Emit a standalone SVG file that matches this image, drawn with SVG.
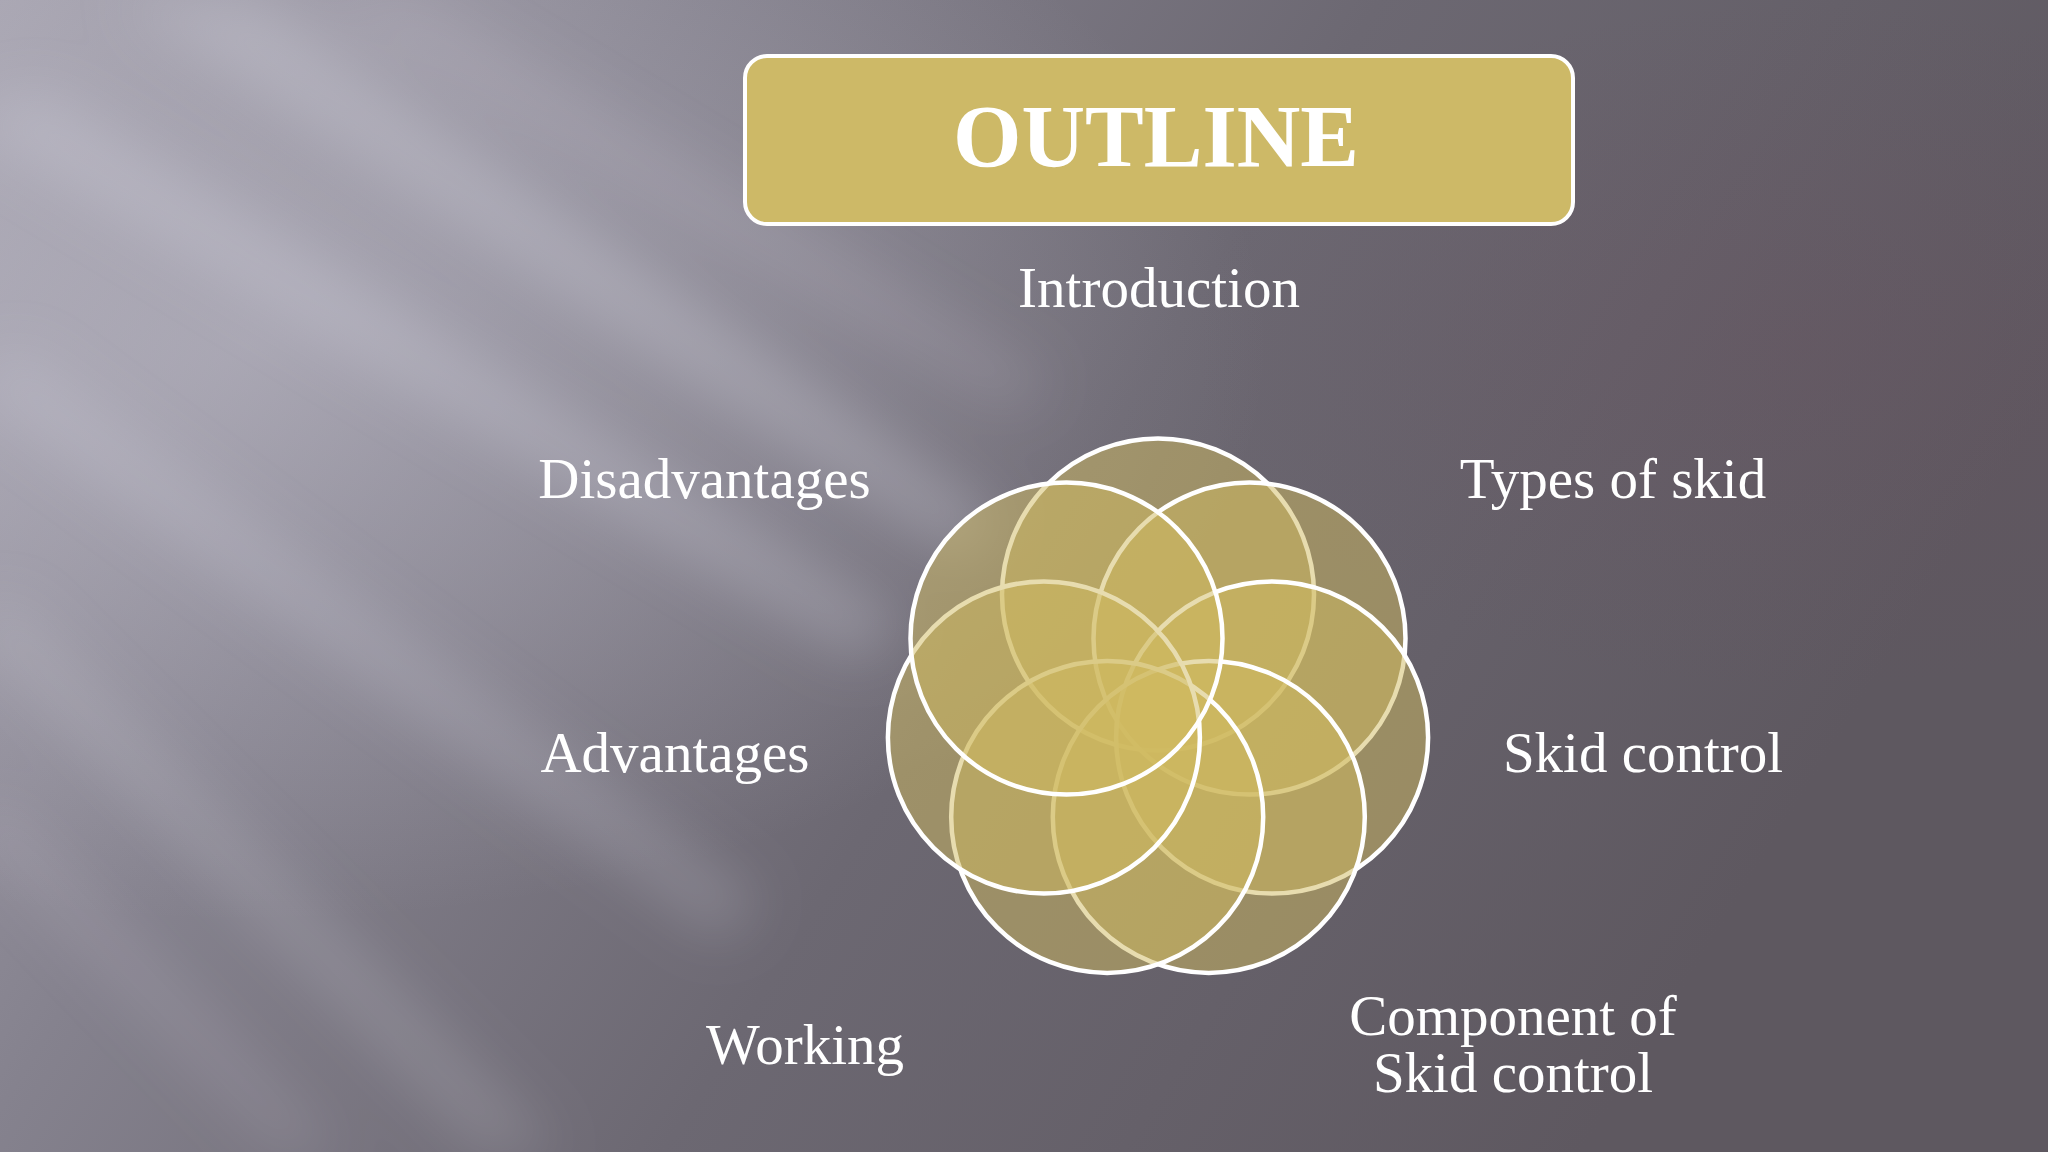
<svg xmlns="http://www.w3.org/2000/svg" width="2048" height="1152" viewBox="0 0 2048 1152">
  <defs>
    <linearGradient id="bg" x1="0" y1="0" x2="1" y2="0.35">
      <stop offset="0" stop-color="#a5a2ae"/>
      <stop offset="0.3" stop-color="#85828e"/>
      <stop offset="0.6" stop-color="#6c6872"/>
      <stop offset="1" stop-color="#5e5860"/>
    </linearGradient>
    <radialGradient id="glow" cx="0.12" cy="0.3" r="0.5">
      <stop offset="0" stop-color="#c4c2cf" stop-opacity="0.5"/>
      <stop offset="1" stop-color="#c4c2cf" stop-opacity="0"/>
    </radialGradient>
    <radialGradient id="tint" cx="0.88" cy="0.3" r="0.3">
      <stop offset="0" stop-color="#6a4f5e" stop-opacity="0.25"/>
      <stop offset="1" stop-color="#6a4f5e" stop-opacity="0"/>
    </radialGradient>
    <filter id="blur" x="-50%" y="-50%" width="200%" height="200%">
      <feGaussianBlur stdDeviation="28"/>
    </filter>
    <style>
      .lbl { font-family: "Liberation Serif", "DejaVu Serif", serif; font-size: 57px; fill: #ffffff; text-anchor: middle; }
      .ttl { font-family: "Liberation Serif", "DejaVu Serif", serif; font-size: 88px; font-weight: bold; fill: #ffffff; text-anchor: middle; }
      .ring { fill: #cfba5f; fill-opacity: 0.5; stroke: #ffffff; stroke-width: 4.5; }
    </style>
  </defs>

  <!-- background -->
  <rect x="0" y="0" width="2048" height="1152" fill="url(#bg)"/>
  <rect x="0" y="0" width="2048" height="1152" fill="url(#glow)"/>
  <rect x="0" y="0" width="2048" height="1152" fill="url(#tint)"/>
  <g filter="url(#blur)" fill="#d8d6e2">
    <polygon points="120,0 260,0 1000,520 960,560" opacity="0.3"/>
    <polygon points="-40,120 40,90 900,620 860,660" opacity="0.28"/>
    <polygon points="-40,380 20,350 760,900 720,940" opacity="0.22"/>
    <polygon points="-40,620 10,600 560,1152 480,1152" opacity="0.2"/>
    <polygon points="300,0 420,0 1050,380 1010,410" opacity="0.16"/>
    <polygon points="-40,820 0,800 340,1152 280,1152" opacity="0.16"/>
  </g>

  <!-- title -->
  <g id="title">
    <rect x="745" y="56" width="828" height="168" rx="22" ry="22" fill="#cdb967" stroke="#ffffff" stroke-width="4"/>
    <text class="ttl" x="1156" y="166">OUTLINE</text>
  </g>

  <!-- venn rings -->
  <g id="rings">
    <circle id="ring-introduction" class="ring" cx="1158" cy="594.5" r="156"/>
    <circle id="ring-types" class="ring" cx="1249.5" cy="638.6" r="156"/>
    <circle id="ring-skidcontrol" class="ring" cx="1272.1" cy="737.5" r="156"/>
    <circle id="ring-component" class="ring" cx="1208.8" cy="816.9" r="156"/>
    <circle id="ring-working" class="ring" cx="1107.2" cy="816.9" r="156"/>
    <circle id="ring-advantages" class="ring" cx="1043.9" cy="737.5" r="156"/>
    <circle id="ring-disadvantages" class="ring" cx="1066.5" cy="638.6" r="156"/>
  </g>

  <g id="connectors"></g>

  <!-- labels -->
  <g id="introduction"><text class="lbl" x="1159" y="307">Introduction</text></g>
  <g id="types-of-skid"><text class="lbl" x="1613" y="498">Types of skid</text></g>
  <g id="skid-control"><text class="lbl" x="1643" y="772">Skid control</text></g>
  <g id="component"><text class="lbl" x="1513" y="1035">Component of</text><text class="lbl" x="1513" y="1092">Skid control</text></g>
  <g id="working"><text class="lbl" x="805" y="1064">Working</text></g>
  <g id="advantages"><text class="lbl" x="675" y="772">Advantages</text></g>
  <g id="disadvantages"><text class="lbl" x="704.5" y="498">Disadvantages</text></g>
</svg>
